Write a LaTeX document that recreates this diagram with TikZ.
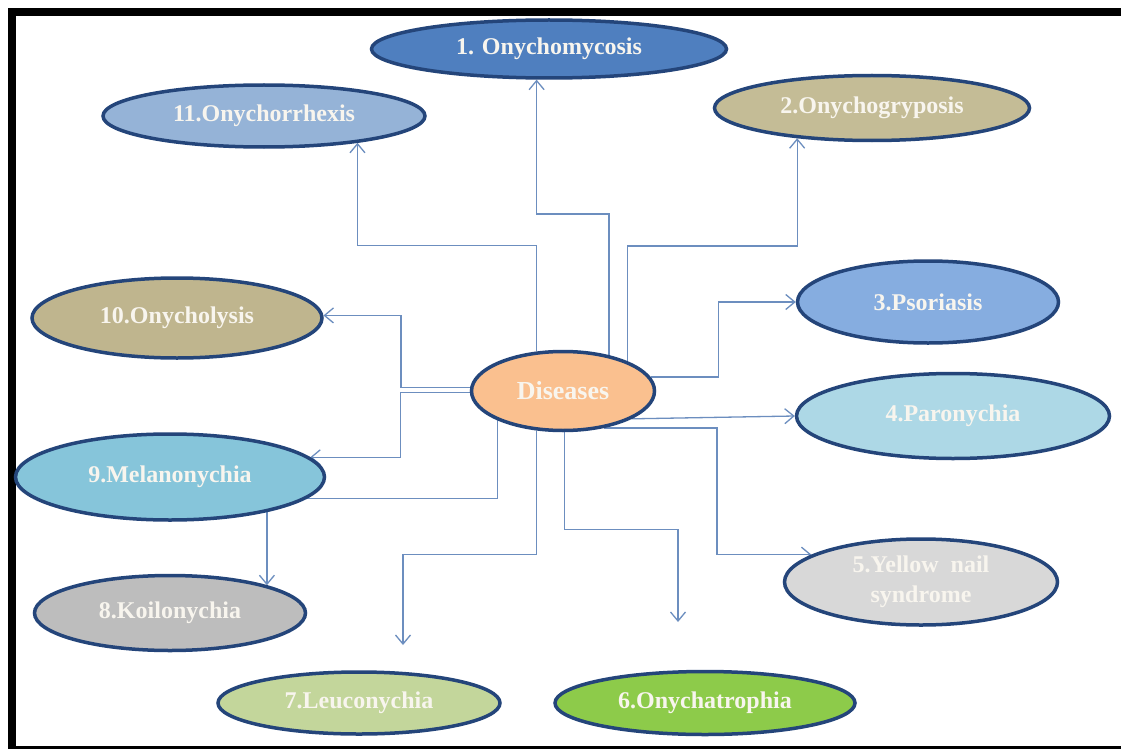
\documentclass[tikz,border=0pt]{standalone}
\usepackage{fontspec}
\setmainfont{Liberation Serif}
\usetikzlibrary{shapes.geometric,arrows.meta,backgrounds}

\definecolor{rim}{HTML}{24457A}
\definecolor{wire}{HTML}{6C8EBF}
\definecolor{txt}{HTML}{F8F5EE}
\definecolor{cdis}{HTML}{FAC08F}
\definecolor{cony}{HTML}{4F7FBF}
\definecolor{conx}{HTML}{95B3D7}
\definecolor{cgry}{HTML}{C4BC96}
\definecolor{clys}{HTML}{BFB58E}
\definecolor{cpso}{HTML}{86ADE0}
\definecolor{cpar}{HTML}{ADD8E6}
\definecolor{cmel}{HTML}{86C5DA}
\definecolor{cyel}{HTML}{D8D8D8}
\definecolor{ckoi}{HTML}{BDBDBD}
\definecolor{cleu}{HTML}{C3D69B}
\definecolor{catr}{HTML}{8DCB4A}

\begin{document}
\begin{tikzpicture}[x=1pt,y=-1pt,
  oval/.style={ellipse,draw=rim,line width=3.5pt,inner sep=0pt,text=txt,
    font=\fontsize{24}{28}\selectfont\bfseries},
  link/.style={draw=wire,line width=1.3pt,->},
  >={Straight Barb[length=9pt,width=15pt]}]
\useasboundingbox (0,0) rectangle (1121,749);

% frame
\fill (8,8) rectangle (1121,16);
\fill (8,8) rectangle (16,749);
\fill (16,746) rectangle (1121,749);

% ovals
\node[oval,fill=cdis,minimum width=183,minimum height=79,font=\fontsize{26}{30}\selectfont\bfseries] (dis) at (563,391) {Diseases};
\node[oval,fill=cony,minimum width=355,minimum height=58] (ony) at (549,49) {1. Onychomycosis};
\node[oval,fill=conx,minimum width=322,minimum height=62] (onx) at (264,116) {11.Onychorrhexis};
\node[oval,fill=cgry,minimum width=315,minimum height=65] (gry) at (872,108) {2.Onychogryposis};
\node[oval,fill=clys,minimum width=290,minimum height=80] (lys) at (177,318) {10.Onycholysis};
\node[oval,fill=cpso,minimum width=261,minimum height=82] (pso) at (928,302) {3.Psoriasis};
\node[oval,fill=cpar,minimum width=313,minimum height=85] (par) at (953,416) {4.Paronychia};
\node[oval,fill=cmel,minimum width=309,minimum height=86] (mel) at (170,477) {9.Melanonychia};
\node[oval,fill=cyel,minimum width=273,minimum height=86,align=center] (yel) at (921,582) {5.Yellow\enspace nail\\[2pt]syndrome};
\node[oval,fill=ckoi,minimum width=271,minimum height=75] (koi) at (170,613) {8.Koilonychia};
\node[oval,fill=cleu,minimum width=282,minimum height=62] (leu) at (359,703) {7.Leuconychia};
\node[oval,fill=catr,minimum width=300,minimum height=63] (atr) at (705,703) {6.Onychatrophia};

\coordinate (tip6) at (678,622);
\coordinate (tip7) at (403,645);

% connectors, behind the ovals
\begin{scope}[on background layer]
\fill[white] (0,0) rectangle (1121,749);
\draw[link] (dis.38) -- ++(0,-141) -| (ony.-112);
\draw[link] (dis.124) -- ++(0,-106) -| (onx.-16);
\draw[link] (dis.25) -- ++(0,-115) -| (gry.-158);
\draw[link] (dis.9) -- ++(68,0) |- (pso.west);
\draw[link] (dis.-22) -- (par.west);
\draw[link] (dis.-42) -- ++(113,0) |- (yel.166);
\draw[link] (dis.-88) -- ++(0,97) -| (tip6);
\draw[link] (dis.-124) -- ++(0,124) -| (tip7);
\draw[link] (dis.-156) -- ++(0,78) -| (koi.16);
\draw[link] (dis.181) -- ++(-69,0) |- (mel.8);
\draw[link] (dis.178) -- ++(-69,0) |- (lys.1);
\end{scope}
\end{tikzpicture}
\end{document}
